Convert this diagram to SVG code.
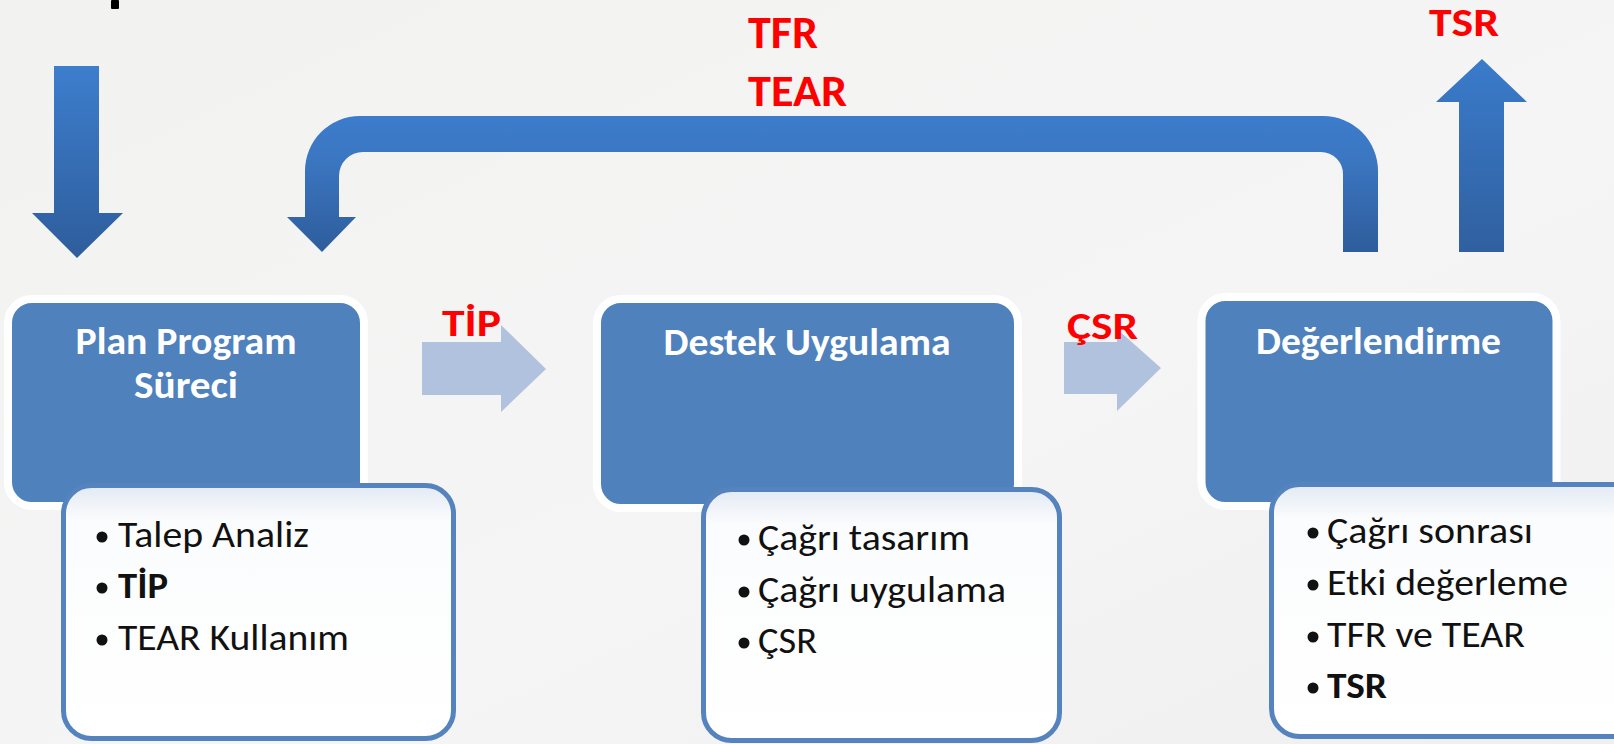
<svg xmlns="http://www.w3.org/2000/svg" width="1614" height="744" viewBox="0 0 1614 744">
  <defs>
    <linearGradient id="bg" x1="0" y1="0" x2="1" y2="1">
      <stop offset="0" stop-color="#F2F2F1"/>
      <stop offset="0.6" stop-color="#F5F5F5"/>
      <stop offset="1" stop-color="#EFEFEF"/>
    </linearGradient>
    <linearGradient id="arrowGrad" x1="0" y1="0" x2="0" y2="1">
      <stop offset="0" stop-color="#3D7ECD"/>
      <stop offset="1" stop-color="#2E5D9C"/>
    </linearGradient>
    <linearGradient id="upGrad" x1="0" y1="0" x2="0" y2="1">
      <stop offset="0" stop-color="#3A7BCB"/>
      <stop offset="1" stop-color="#30609F"/>
    </linearGradient>
    <linearGradient id="curveGrad" gradientUnits="userSpaceOnUse" x1="0" y1="116" x2="0" y2="252">
      <stop offset="0" stop-color="#3C7CCC"/>
      <stop offset="0.3" stop-color="#3B77C2"/>
      <stop offset="1" stop-color="#2E5D9B"/>
    </linearGradient>
    <linearGradient id="listGrad" x1="0" y1="0" x2="0" y2="1">
      <stop offset="0" stop-color="#E3EAF4"/>
      <stop offset="0.14" stop-color="#FBFCFD"/>
      <stop offset="1" stop-color="#FFFFFF"/>
    </linearGradient>
  </defs>
  <style>
    .head { fill: #4F81BD; stroke: #FFFFFF; stroke-width: 8; }
    .list { fill: url(#listGrad); stroke: #5583BD; stroke-width: 5; }
    .title { font-family: Carlito, Lato, "Liberation Sans", sans-serif; font-weight: bold; font-size: 38px; fill: #FFFFFF; text-anchor: middle; }
    .item { font-family: Carlito, Lato, "Liberation Sans", sans-serif; font-size: 37px; fill: #111111; }
    .bold { font-weight: bold; }
    .red { font-family: Carlito, Lato, "Liberation Sans", sans-serif; font-weight: bold; fill: #FF0000; }
    .dot { fill: #111111; }
    .light { fill: #B0C2DD; }
  </style>

  <rect x="0" y="0" width="1614" height="744" fill="url(#bg)"/>
  <rect x="111" y="0" width="8" height="9" rx="1" fill="#000000"/>

  <g id="connectors">
    <polygon id="arrow-in" fill="url(#arrowGrad)" points="54,66 99,66 99,213 123,213 77,258 32,213 54,213"/>
    <polygon id="arrow-out" fill="url(#upGrad)" points="1459,252 1459,102 1436,102 1482,59 1527,102 1504,102 1504,252"/>
    <path id="arrow-feedback" fill="url(#curveGrad)" d="M1378,252 L1378,171 A55,55 0 0 0 1323,116 L360,116 A55,55 0 0 0 305,171 L305,217 L287,217 L322,252 L356,217 L339,217 L339,176 A24,24 0 0 1 363,152 L1321,152 A22,22 0 0 1 1343,174 L1343,252 Z"/>
    <polygon id="arrow-tip" class="light" points="422,342 501,342 501,325 546,369 501,412 501,395 422,395"/>
    <polygon id="arrow-csr" class="light" points="1064,342 1117,342 1117,329 1161,368 1117,411 1117,394 1064,394"/>
    <text class="red" x="748" y="48" font-size="46" textLength="70" lengthAdjust="spacingAndGlyphs">TFR</text>
    <text class="red" x="748" y="106" font-size="44" textLength="99" lengthAdjust="spacingAndGlyphs">TEAR</text>
    <text class="red" x="1429" y="36" font-size="40" textLength="70" lengthAdjust="spacingAndGlyphs">TSR</text>
    <text class="red" x="442" y="336" font-size="38" textLength="59" lengthAdjust="spacingAndGlyphs">TİP</text>
    <text class="red" x="1067" y="339" font-size="38" textLength="71" lengthAdjust="spacingAndGlyphs">ÇSR</text>
  </g>

  <g id="node-plan">
    <rect class="head" x="8" y="299" width="356" height="207" rx="24"/>
    <text class="title" x="186" y="354" textLength="221" lengthAdjust="spacingAndGlyphs">Plan Program</text>
    <text class="title" x="186" y="398" textLength="104" lengthAdjust="spacingAndGlyphs">Süreci</text>
    <rect class="list" x="63.5" y="485.5" width="390" height="253" rx="28"/>
    <circle class="dot" cx="102" cy="537" r="5.5"/>
    <text class="item" x="118" y="547" textLength="191" lengthAdjust="spacingAndGlyphs">Talep Analiz</text>
    <circle class="dot" cx="102" cy="588" r="5.5"/>
    <text class="item bold" x="118" y="598" textLength="50" lengthAdjust="spacingAndGlyphs">TİP</text>
    <circle class="dot" cx="102" cy="640" r="5.5"/>
    <text class="item" x="118" y="650" textLength="231" lengthAdjust="spacingAndGlyphs">TEAR Kullanım</text>
  </g>

  <g id="node-destek">
    <rect class="head" x="597" y="299" width="421" height="209" rx="24"/>
    <text class="title" x="807" y="355" textLength="287" lengthAdjust="spacingAndGlyphs">Destek Uygulama</text>
    <rect class="list" x="703.5" y="489.5" width="356" height="251" rx="28"/>
    <circle class="dot" cx="744" cy="540" r="5.5"/>
    <text class="item" x="758" y="550" textLength="212" lengthAdjust="spacingAndGlyphs">Çağrı tasarım</text>
    <circle class="dot" cx="744" cy="592" r="5.5"/>
    <text class="item" x="758" y="602" textLength="248" lengthAdjust="spacingAndGlyphs">Çağrı uygulama</text>
    <circle class="dot" cx="744" cy="643" r="5.5"/>
    <text class="item" x="758" y="653" textLength="59" lengthAdjust="spacingAndGlyphs">ÇSR</text>
  </g>

  <g id="node-degerlendirme">
    <rect class="head" x="1201.5" y="297" width="355" height="209" rx="24"/>
    <text class="title" x="1378.5" y="354" textLength="245" lengthAdjust="spacingAndGlyphs">Değerlendirme</text>
    <rect class="list" x="1271.5" y="484.5" width="380" height="252" rx="28"/>
    <circle class="dot" cx="1313" cy="533" r="5.5"/>
    <text class="item" x="1327" y="543" textLength="206" lengthAdjust="spacingAndGlyphs">Çağrı sonrası</text>
    <circle class="dot" cx="1313" cy="585" r="5.5"/>
    <text class="item" x="1327" y="595" textLength="241" lengthAdjust="spacingAndGlyphs">Etki değerleme</text>
    <circle class="dot" cx="1313" cy="637" r="5.5"/>
    <text class="item" x="1327" y="647" textLength="198" lengthAdjust="spacingAndGlyphs">TFR ve TEAR</text>
    <circle class="dot" cx="1313" cy="688" r="5.5"/>
    <text class="item bold" x="1327" y="698" textLength="60" lengthAdjust="spacingAndGlyphs">TSR</text>
  </g>
</svg>
